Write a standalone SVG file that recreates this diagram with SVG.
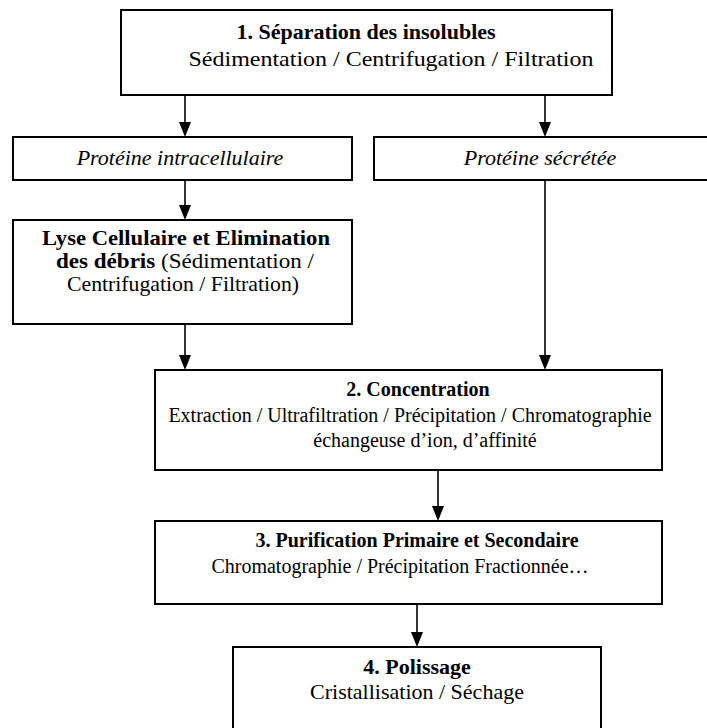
<svg xmlns="http://www.w3.org/2000/svg" width="707" height="728" viewBox="0 0 707 728">
<style>
.box{fill:#fff;stroke:#000;stroke-width:2}
.t{font-family:"Liberation Serif","DejaVu Serif","Times New Roman",serif;font-size:22px;fill:#000;text-anchor:middle}
.s{font-size:20px}
.m{font-size:21px}
.b{font-weight:bold}
.i{font-style:italic}
.c{stroke:#000;stroke-width:1.6;fill:none}
</style>
<g id="connectors">
<line class="c" x1="185" y1="95" x2="185" y2="125"/>
<path d="M179,122 L191,122 L185,137 Z"/>
<line class="c" x1="545" y1="95" x2="545" y2="125"/>
<path d="M539,122 L551,122 L545,137 Z"/>
<line class="c" x1="185" y1="180" x2="185" y2="208"/>
<path d="M179,205 L191,205 L185,220 Z"/>
<line class="c" x1="185" y1="324" x2="185" y2="358"/>
<path d="M179,355 L191,355 L185,370 Z"/>
<line class="c" x1="545" y1="180" x2="545" y2="358"/>
<path d="M539,355 L551,355 L545,370 Z"/>
<line class="c" x1="438" y1="470" x2="438" y2="509"/>
<path d="M432,506 L444,506 L438,521 Z"/>
<line class="c" x1="417" y1="604" x2="417" y2="635"/>
<path d="M411,632 L423,632 L417,647 Z"/>
</g>
<g id="n1">
<rect class="box" x="121" y="10" width="491" height="85"/>
<text class="t b" x="366" y="39">1. Séparation des insolubles</text>
<text class="t" x="391" y="66" textLength="405" lengthAdjust="spacingAndGlyphs">Sédimentation / Centrifugation / Filtration</text>
</g>
<g id="n_intra">
<rect class="box" x="13" y="137" width="339" height="43"/>
<text class="t i" x="180" y="165">Protéine intracellulaire</text>
</g>
<g id="n_secr">
<rect class="box" x="374" y="137" width="340" height="43"/>
<text class="t i" x="540" y="165">Protéine sécrétée</text>
</g>
<g id="n_lyse">
<rect class="box" x="13" y="220" width="339" height="104"/>
<text class="t m b" x="186" y="245" textLength="288" lengthAdjust="spacingAndGlyphs">Lyse Cellulaire et Elimination</text>
<text class="t m" x="185" y="268" textLength="258" lengthAdjust="spacingAndGlyphs"><tspan class="b">des débris</tspan> (Sédimentation /</text>
<text class="t m" x="183" y="291" textLength="232" lengthAdjust="spacingAndGlyphs">Centrifugation / Filtration)</text>
</g>
<g id="n2">
<rect class="box" x="155" y="370" width="507" height="100"/>
<text class="t s b" x="418" y="396">2. Concentration</text>
<text class="t s" x="410" y="422">Extraction / Ultrafiltration / Précipitation / Chromatographie</text>
<text class="t s" x="425" y="447">échangeuse d’ion, d’affinité</text>
</g>
<g id="n3">
<rect class="box" x="155" y="521" width="507" height="83"/>
<text class="t s b" x="417" y="547">3. Purification Primaire et Secondaire</text>
<text class="t s" x="400" y="573">Chromatographie / Précipitation Fractionnée…</text>
</g>
<g id="n4">
<rect class="box" x="233" y="647" width="368" height="90"/>
<text class="t b" x="417" y="674">4. Polissage</text>
<text class="t" x="417" y="699">Cristallisation / Séchage</text>
</g>
</svg>
